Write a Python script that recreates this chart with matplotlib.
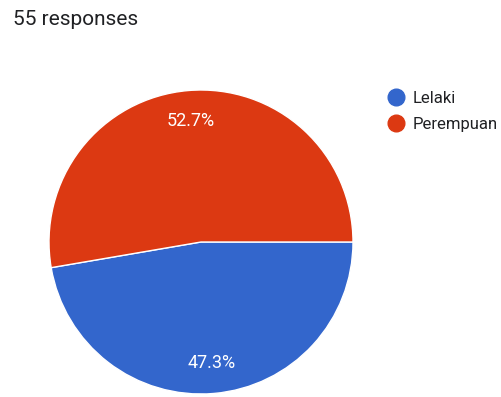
import matplotlib
matplotlib.use("Agg")
import matplotlib.pyplot as plt
from matplotlib.lines import Line2D

plt.rcParams['font.family'] = ['Roboto', 'DejaVu Sans']

title = "55 responses"
categories = ["Lelaki", "Perempuan"]
percentages = [47.3, 52.7]
colors = ["#3366CC", "#DC3912"]

W, H = 501, 397
fig = plt.figure(figsize=(W / 100, H / 100), dpi=100)

# pie axes: centre (201, 242) px, radius 152 px
cx, cy, r = 201, 242, 152
ax = fig.add_axes([(cx - r) / W, (H - cy - r) / H, 2 * r / W, 2 * r / H])
wedges, texts, autotexts = ax.pie(
    percentages,
    colors=colors,
    startangle=0,
    counterclock=False,
    radius=1.0,
    autopct=lambda p: f"{p:.1f}%",
    pctdistance=0.8,
    wedgeprops=dict(edgecolor="white", linewidth=1),
    textprops=dict(color="white", fontsize=13),
)
ax.set_xlim(-1, 1)
ax.set_ylim(-1, 1)
ax.set_aspect("equal")
ax.axis("off")

fig.text(13 / W, 1 - 25 / H, title, fontsize=15, color="#202124",
         ha="left", va="baseline")

handles = [Line2D([], [], marker="o", linestyle="", markersize=12,
                  markerfacecolor=c, markeredgecolor=c) for c in colors]
fig.legend(handles, categories, loc="upper left",
           bbox_to_anchor=(378 / W, 1 - 83 / H), frameon=False,
           fontsize=12, handletextpad=0.35, labelspacing=0.65,
           borderpad=0, handlelength=1.2, labelcolor="#202124")

fig.savefig("out.png", dpi=100)
